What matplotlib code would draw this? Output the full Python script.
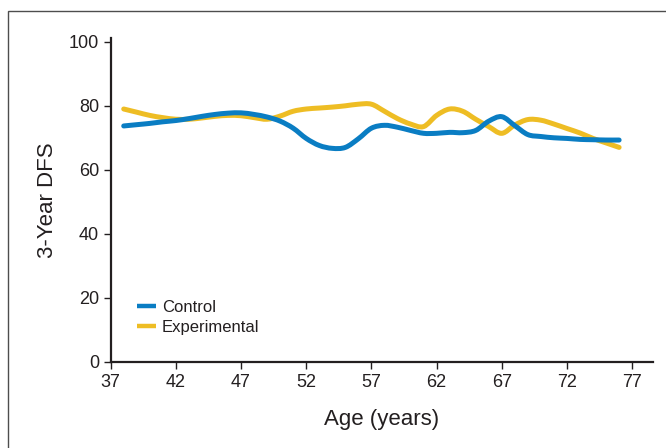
import matplotlib
matplotlib.use("Agg")
import matplotlib.pyplot as plt
from matplotlib.patches import Rectangle, PathPatch
from matplotlib.path import Path
from matplotlib.lines import Line2D

plt.rcParams['font.family'] = ['Liberation Sans', 'DejaVu Sans']

# 3-year disease-free survival by age
ages = list(range(38, 77))
control = [73.7, 74.1, 74.5, 75.0, 75.4, 76.0, 76.7, 77.3, 77.7, 77.8,
           77.3, 76.5, 75.2, 73.0, 69.8, 67.6, 66.7, 67.0, 69.7, 73.0,
           73.9, 73.3, 72.3, 71.4, 71.4, 71.7, 71.6, 72.3, 75.2, 76.6,
           73.8, 71.0, 70.4, 70.0, 69.8, 69.5, 69.4, 69.3, 69.3]
experimental = [79.0, 78.0, 77.0, 76.3, 75.8, 75.8, 76.2, 76.7, 77.0, 76.9,
                76.3, 75.8, 76.8, 78.3, 79.0, 79.3, 79.6, 80.0, 80.5, 80.5,
                78.3, 76.0, 74.3, 73.5, 77.0, 79.0, 78.3, 75.8, 73.5, 71.4,
                74.0, 75.7, 75.5, 74.3, 72.9, 71.5, 69.8, 68.4, 67.0]

x_ticks = [37, 42, 47, 52, 57, 62, 67, 72, 77]
y_ticks = [0, 20, 40, 60, 80, 100]

BLUE = '#0a7dc3'
YELLOW = '#eebd24'
INK = '#231f20'


def smooth_path(xs, ys):
    """Cubic Bezier path through every data point (Catmull-Rom tangents)."""
    n = len(xs)
    tx, ty = [], []
    for i in range(n):
        a = max(i - 1, 0)
        b = min(i + 1, n - 1)
        tx.append((xs[b] - xs[a]) / (b - a))
        ty.append((ys[b] - ys[a]) / (b - a))
    verts = [(xs[0], ys[0])]
    codes = [Path.MOVETO]
    for i in range(n - 1):
        verts.append((xs[i] + tx[i] / 3, ys[i] + ty[i] / 3))
        verts.append((xs[i + 1] - tx[i + 1] / 3, ys[i + 1] - ty[i + 1] / 3))
        verts.append((xs[i + 1], ys[i + 1]))
        codes += [Path.CURVE4] * 3
    return Path(verts, codes)


fig = plt.figure(figsize=(6.66, 4.48), dpi=100)
ax = fig.add_axes([0.1662, 0.1926, 0.8143, 0.7226])

# outer panel frame
fig.patches.append(Rectangle((8 / 666, -0.2), 1.2, 1 - 11 / 448 + 0.2,
                             transform=fig.transFigure, fill=False,
                             edgecolor='#4d4d4d', linewidth=1.0))

series = [('Control', control, BLUE, 3), ('Experimental', experimental, YELLOW, 2)]
handles = []
for name, vals, col, z in series:
    ax.add_patch(PathPatch(smooth_path(ages, vals), facecolor='none',
                           edgecolor=col, lw=3.6, joinstyle='round',
                           capstyle='round', zorder=z))
    handles.append(Line2D([], [], color=col, lw=3.2, solid_capstyle='butt',
                          label=name))

ax.set_xlim(37, 78.6)
ax.set_ylim(0, 101.2)
ax.set_xticks(x_ticks)
ax.set_yticks(y_ticks)

for side in ('top', 'right'):
    ax.spines[side].set_visible(False)
for side in ('left', 'bottom'):
    ax.spines[side].set_color(INK)
    ax.spines[side].set_linewidth(1.6)

ax.tick_params(axis='both', direction='out', length=5, width=1.0,
               color=INK, labelcolor=INK, labelsize=13, pad=3.5)

ax.set_xlabel('Age (years)', fontsize=16, color=INK, labelpad=13)
ax.set_ylabel('3-Year DFS', fontsize=16, color=INK, labelpad=8)

leg = ax.legend(handles=handles, loc='lower left', bbox_to_anchor=(0.036, 0.062),
                frameon=False, fontsize=12, handlelength=1.15,
                handletextpad=0.35, labelspacing=0.32, borderaxespad=0)
for t in leg.get_texts():
    t.set_color(INK)

fig.savefig('out.png', dpi=100)
